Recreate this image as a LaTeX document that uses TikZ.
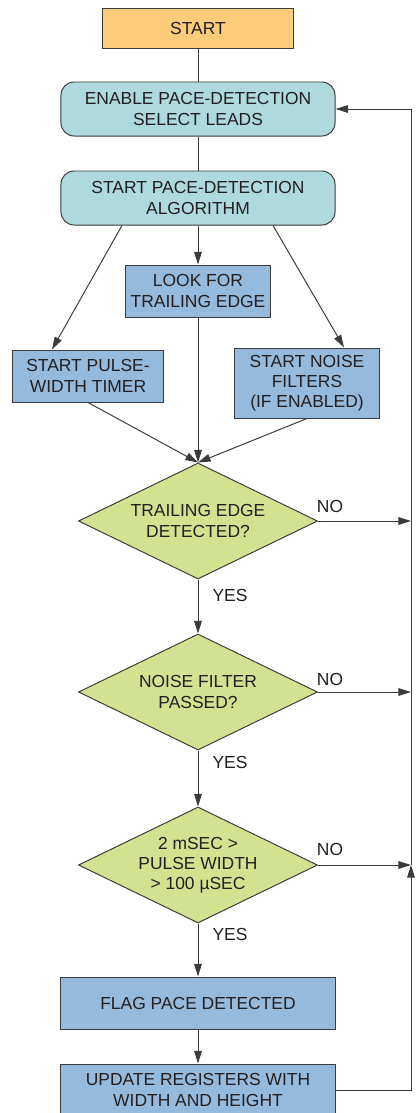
\documentclass[tikz,border=0pt]{standalone}
\usepackage{fontspec}
\setmainfont{Liberation Sans}
\usetikzlibrary{shapes.geometric,arrows.meta}
\definecolor{startorange}{RGB}{253,204,122}
\definecolor{tealbox}{RGB}{174,218,221}
\definecolor{bluebox}{RGB}{150,186,220}
\definecolor{greenbox}{RGB}{211,226,144}
\definecolor{ink}{RGB}{35,31,32}
\definecolor{linegray}{RGB}{60,60,60}

\begin{document}
\begin{tikzpicture}[x=0.025cm, y=-0.025cm,
    every node/.style={font=\fontsize{12.4}{14.4}\selectfont, text=ink, align=center},
    box/.style={draw=linegray, line width=0.7pt, inner sep=0pt},
    term/.style={box, fill=startorange},
    procr/.style={box, rounded corners=0.33cm, fill=tealbox, minimum width=6.85cm, minimum height=1.35cm},
    proc/.style={box, fill=bluebox},
    test/.style={box, diamond, aspect=2, fill=greenbox, minimum width=5.975cm, minimum height=2.9cm},
    line/.style={draw=linegray, line width=0.7pt},
    arr/.style={line, -{Triangle[length=9pt,width=5.5pt]}}
]
    \useasboundingbox (0,0) rectangle (419,1113);

    \node[term, minimum width=4.75cm, minimum height=1cm] (start) at (198,28) {START};
    \node[procr] (enable) at (198,109) {ENABLE PACE-DETECTION\\SELECT LEADS};
    \node[procr] (algo) at (198,198) {START PACE-DETECTION\\ALGORITHM};
    \node[proc, minimum width=3.6cm, minimum height=1.3cm] (look) at (198,291) {LOOK FOR\\TRAILING EDGE};
    \node[proc, minimum width=3.75cm, minimum height=1.3cm] (pulse) at (88,376) {START PULSE-\\WIDTH TIMER};
    \node[proc, minimum width=3.6cm, minimum height=1.75cm] (noise) at (307,383) {START NOISE\\FILTERS\\(IF ENABLED)};
    \node[test] (trail) at (198,521) {TRAILING EDGE\\DETECTED?};
    \node[test] (filt) at (198,692) {NOISE FILTER\\PASSED?};
    \node[test] (width) at (198,865) {2 mSEC >\\PULSE WIDTH\\> 100 µSEC};
    \node[proc, minimum width=6.85cm, minimum height=1.3cm] (flag) at (198,1003) {FLAG PACE DETECTED};
    \node[proc, minimum width=6.85cm, minimum height=1.3cm] (update) at (198,1090) {UPDATE REGISTERS WITH\\WIDTH AND HEIGHT};

    \coordinate (j1) at (411,521);
    \coordinate (j2) at (411,692);
    \coordinate (j3) at (411,865);

    \node (no1) at (330,506) {NO};
    \node (no2) at (330,679) {NO};
    \node (no3) at (330,849) {NO};
    \node (yes1) at (230,595) {YES};
    \node (yes2) at (230,762) {YES};
    \node (yes3) at (230,934) {YES};

    \draw[line] (start) -- (enable);
    \draw[line] (enable) -- (algo);
    \draw[arr] (algo) -- (look);
    \draw[arr] ([xshift=-1.9cm]algo.south) -- ([xshift=-0.9cm]pulse.north);
    \draw[arr] ([xshift=1.875cm]algo.south) -- ([xshift=0.925cm]noise.north);
    \draw[arr] (pulse.south) -- (trail.north);
    \draw[arr] (look) -- (trail);
    \draw[arr] (noise.south) -- (trail.north);
    \draw[arr] (trail) -- (filt);
    \draw[arr] (filt) -- (width);
    \draw[arr] (width) -- (flag);
    \draw[arr] (flag) -- (update);
    \draw[arr] (trail.east) -- (j1);
    \draw[arr] (filt.east) -- (j2);
    \draw[arr] (width.east) -- (j3);
    \draw[arr] (update.east) -| (j3);
    \draw[arr] (j3) |- (enable.east);
\end{tikzpicture}
\end{document}
